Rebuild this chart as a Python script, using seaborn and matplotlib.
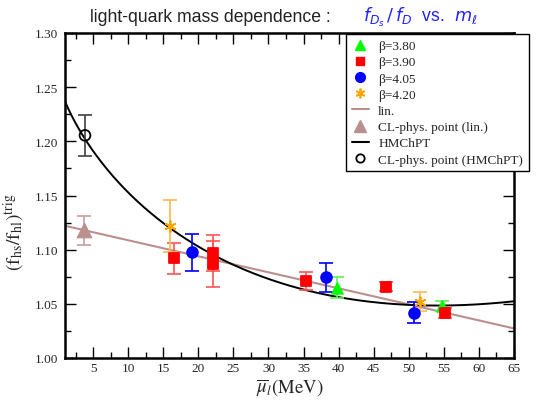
import numpy as np
import pandas as pd
import seaborn as sns
import matplotlib
matplotlib.use("Agg")
import matplotlib.pyplot as plt
from matplotlib.lines import Line2D
from matplotlib.ticker import MultipleLocator, FormatStrFormatter

# ---- data -------------------------------------------------------------
b380_x = [39.8, 54.7]
b380_y = [1.065, 1.048]
b380_e = [0.010, 0.0045]

b390_x = [16.5, 22.1, 22.1, 35.3, 46.8, 55.2]
b390_y = [1.092, 1.097, 1.087, 1.071, 1.066, 1.0415]
b390_e = [0.0143, 0.017, 0.021, 0.0083, 0.004, 0.0045]

b405_x = [19.1, 38.2, 50.8]
b405_y = [1.0975, 1.0744, 1.042]
b405_e = [0.017, 0.0135, 0.0095]

b420_x = [16.0, 51.6]
b420_y = [1.122, 1.052]
b420_e = [0.024, 0.0088]

# continuum-limit physical points
cl_lin_x, cl_lin_y, cl_lin_e = [3.75], [1.118], [0.0135]
cl_hm_x, cl_hm_y, cl_hm_e = [3.85], [1.2055], [0.019]

# fit parameters: linear and HMChPT (a + b*mu + c*mu*ln(mu))
lin_coef = [1.1235, -0.00148]
hm_coef = [1.256, -0.01915, 0.003837]

x_ticks = [5, 10, 15, 20, 25, 30, 35, 40, 45, 50, 55, 60, 65]
y_ticks = [1.00, 1.05, 1.10, 1.15, 1.20, 1.25, 1.30]

# ---- style ------------------------------------------------------------
sns.set_theme(style="white")
plt.rcParams["font.family"] = ["Liberation Serif", "DejaVu Serif"]
plt.rcParams["mathtext.fontset"] = "stix"

fig = plt.figure(figsize=(5.36, 4.02), dpi=100)
ax = fig.add_axes([65 / 536, 1 - 359 / 402, 449 / 536, 325 / 402])

mu = np.linspace(1.0, 65.0, 400)
fits = pd.DataFrame({
    "mu": mu,
    "lin": lin_coef[0] + lin_coef[1] * mu,
    "hm": hm_coef[0] + hm_coef[1] * mu + hm_coef[2] * mu * np.log(mu),
})
sns.lineplot(data=fits, x="mu", y="lin", color="#bc8f8f", lw=1.5, ax=ax)
sns.lineplot(data=fits, x="mu", y="hm", color="black", lw=1.4, ax=ax)

series = [
    (b380_x, b380_y, b380_e, "#00ff00", "#60f060", "^", 60, "β=3.80"),
    (b390_x, b390_y, b390_e, "#ff0000", "#ff5555", "s", 50, "β=3.90"),
    (b405_x, b405_y, b405_e, "#0000ff", "#0000ff", "o", 60, "β=4.05"),
    (b420_x, b420_y, b420_e, "#ffa500", "#ffb84d", (6, 2, 0), 60, "β=4.20"),
]
for xs, ys, es, col, ecol, mk, sz, lab in series:
    ax.errorbar(xs, ys, yerr=es, fmt="none", ecolor=ecol, elinewidth=1.2,
                capsize=5, capthick=1.2, zorder=3)
    sns.scatterplot(x=xs, y=ys, color=col, marker=mk, s=sz, edgecolor=col,
                    linewidth=1.3, ax=ax, zorder=4, legend=False)

ax.errorbar(cl_lin_x, cl_lin_y, yerr=cl_lin_e, fmt="none", ecolor="#c8a0a0",
            elinewidth=1.2, capsize=5, capthick=1.2, zorder=3)
sns.scatterplot(x=cl_lin_x, y=cl_lin_y, color="#bc8f8f", marker="^", s=110,
                edgecolor="#bc8f8f", ax=ax, zorder=4, legend=False)
ax.errorbar(cl_hm_x, cl_hm_y, yerr=cl_hm_e, fmt="none", ecolor="#404040",
            elinewidth=1.2, capsize=5, capthick=1.2, zorder=3)
ax.scatter(cl_hm_x, cl_hm_y, s=60, facecolor="none", edgecolor="black",
           linewidth=1.3, zorder=4)

# ---- axes -------------------------------------------------------------
ax.set_xlim(1, 65)
ax.set_ylim(1.0, 1.3)
ax.set_xticks(x_ticks)
ax.set_yticks(y_ticks)
ax.xaxis.set_minor_locator(MultipleLocator(2.5))
ax.yaxis.set_minor_locator(MultipleLocator(0.025))
ax.yaxis.set_major_formatter(FormatStrFormatter("%.2f"))
ax.tick_params(which="both", direction="in", bottom=True, left=True,
               top=True, right=True, labelsize=9.5, width=1.0,
               color="black", pad=5)
ax.tick_params(axis="x", which="major", pad=3)
ax.tick_params(which="major", length=8)
ax.tick_params(which="minor", length=4)
for sp in ax.spines.values():
    sp.set_color("black")
    sp.set_linewidth(1.8)

ax.set_xlabel(r"$\overline{\mu}_{l}\mathrm{(MeV)}$", fontsize=13.5)
ax.set_ylabel(r"$(\mathrm{f}_{\mathrm{hs}}/\mathrm{f}_{\mathrm{hl}})^{\mathrm{trig}}$",
              fontsize=14)
ax.xaxis.set_label_coords(0.5, -0.058)
ax.yaxis.set_label_coords(-0.085, 0.39)

# ---- legend -----------------------------------------------------------
handles = [
    Line2D([], [], ls="none", marker="^", color="#00ff00", ms=7),
    Line2D([], [], ls="none", marker="s", color="#ff0000", ms=6),
    Line2D([], [], ls="none", marker="o", color="#0000ff", ms=7),
    Line2D([], [], ls="none", marker=(6, 2, 0), color="#ffa500", ms=7, mew=1.3),
    Line2D([], [], color="#bc8f8f", lw=1.5),
    Line2D([], [], ls="none", marker="^", color="#bc8f8f", ms=9),
    Line2D([], [], color="black", lw=1.5),
    Line2D([], [], ls="none", marker="o", mfc="none", mec="black", ms=6, mew=1.3),
]
labels = ["β=3.80", "β=3.90", "β=4.05", "β=4.20", "lin.",
          "CL-phys. point (lin.)", "HMChPT", "CL-phys. point (HMChPT)"]
leg = fig.legend(handles, labels, loc="upper right",
                 bbox_to_anchor=(529 / 536, 1 - 35 / 402), fontsize=9.5,
                 frameon=True, fancybox=False, framealpha=1, edgecolor="black",
                 handlelength=1.3, handletextpad=0.7, labelspacing=0.3,
                 borderpad=0.45, borderaxespad=0)
leg.get_frame().set_linewidth(1.0)

# ---- title ------------------------------------------------------------
fig.text(90 / 536, 1 - 22 / 402, "light-quark mass dependence :",
         family="Liberation Sans", fontsize=12.7, color="#222222", va="baseline")
fig.text(363 / 536, 1 - 22 / 402, r"$f_{D_s}\,/\,f_D$  vs.  $m_\ell$",
         family="Liberation Sans", fontsize=12.7, color="#2222ff", va="baseline",
         math_fontfamily="dejavusans")

fig.savefig("out.png", dpi=100)
